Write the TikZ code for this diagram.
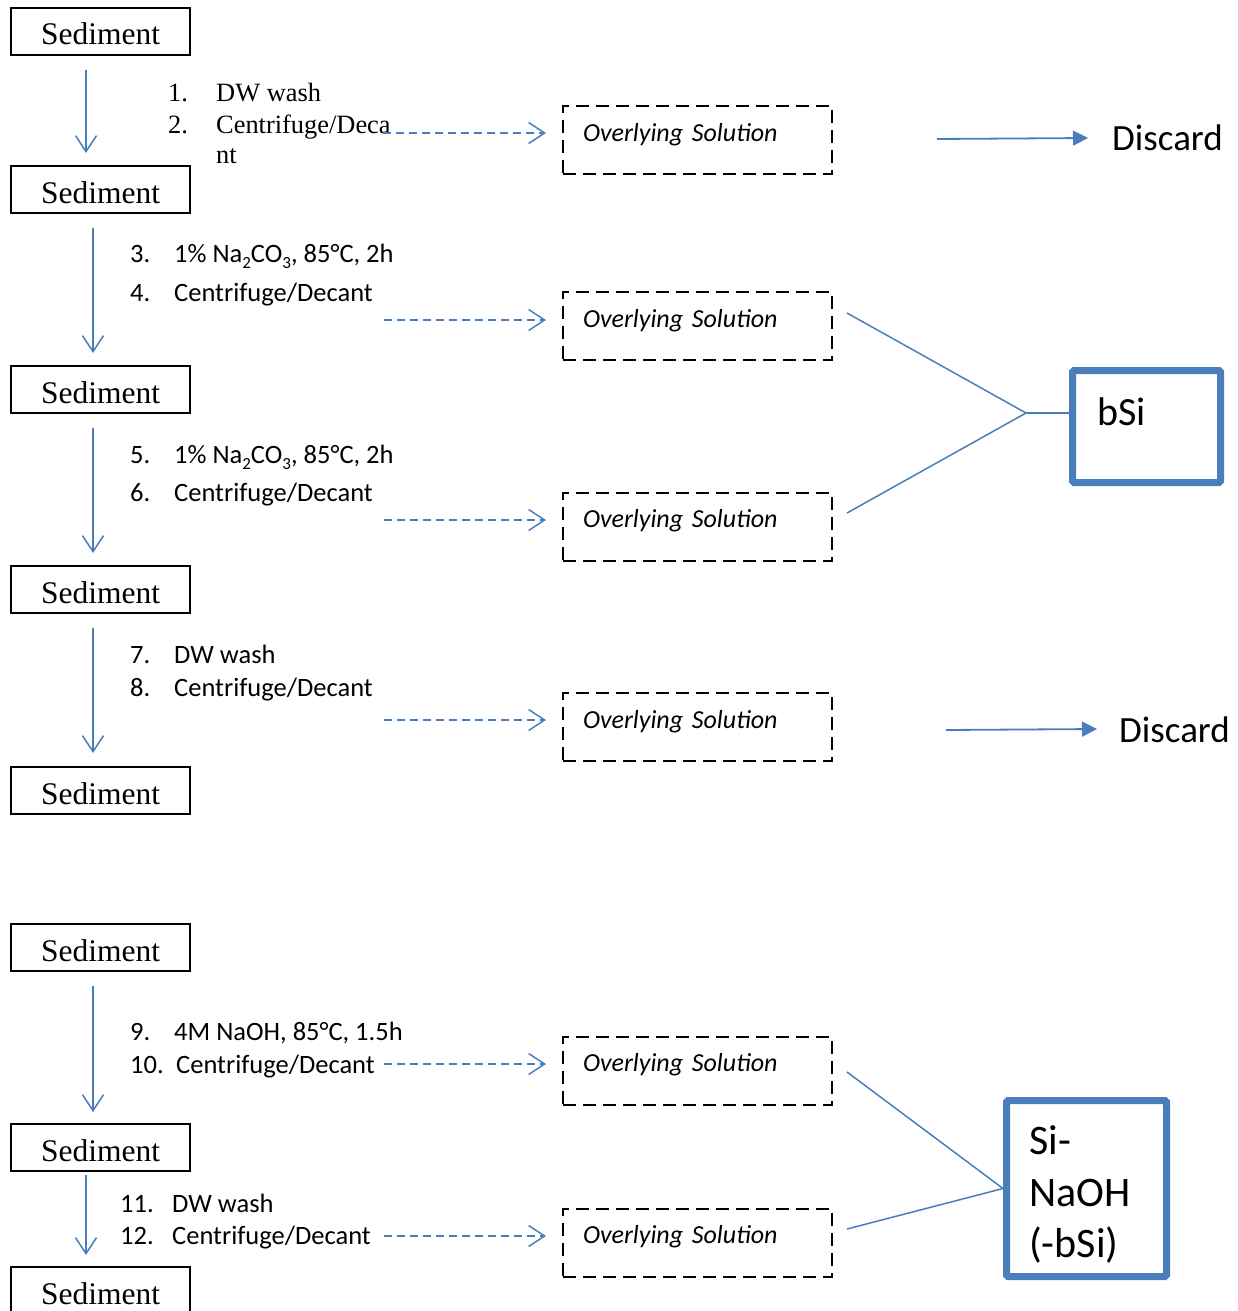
\documentclass[tikz,border=0pt]{standalone}
\usepackage{fontspec}
\setmainfont{Liberation Serif}
\newfontfamily\calfont{Carlito}
\usetikzlibrary{arrows.meta}
\definecolor{obl}{HTML}{4A7EBB}
\newcommand{\sbs}[1]{\raisebox{-6pt}{\fontsize{17}{17}\selectfont #1}}
\tikzset{
 sedbox/.style={draw=black, line width=1.6pt, minimum width=179pt, minimum height=47pt, inner sep=0pt, text height=27pt, text depth=0pt, font=\fontsize{31.5}{31.5}\selectfont},
 ovbox/.style={draw=black, line width=2pt, dash pattern=on 13pt off 7pt, minimum width=269pt, minimum height=68pt, inner xsep=20pt, inner ysep=0pt, text width=229pt, text height=17pt, text depth=15pt, align=left, font=\calfont\itshape\fontsize{26}{26}\selectfont},
 flow/.style={draw=obl, line width=1.5pt, -{Straight Barb[length=16pt,width=21pt,line width=1.5pt]}},
 dflow/.style={flow, dash pattern=on 8pt off 5pt},
 lbl/.style={anchor=base west, inner sep=0pt, font=\calfont\fontsize{26.5}{26.5}\selectfont},
 tlbl/.style={anchor=base west, inner sep=0pt, font=\fontsize{26.4}{26.4}\selectfont},
 link/.style={draw=obl, line width=1.5pt},
 discarrow/.style={draw=obl, line width=1.8pt, -{Triangle[length=15pt,width=15pt]}},
 disctxt/.style={anchor=base west, inner sep=0pt, font=\calfont\fontsize{37}{37}\selectfont},
 resbox/.style={draw=obl, line width=7pt, rounded corners=1.5pt, inner sep=0pt},
 restxt/.style={anchor=base west, inner sep=0pt, font=\calfont\fontsize{40}{40}\selectfont},
}
\begin{document}
\begin{tikzpicture}[x=1pt,y=-1pt]
\useasboundingbox (0,0) rectangle (1237,1311);

% Sediment boxes
\node[sedbox] (s1) at (100.5,31.5) {Sediment};
\node[sedbox] (s2) at (100.5,189.5) {Sediment};
\node[sedbox] (s3) at (100.5,389.5) {Sediment};
\node[sedbox] (s4) at (100.5,589.5) {Sediment};
\node[sedbox] (s5) at (100.5,790.5) {Sediment};
\node[sedbox] (s6) at (100.5,947.5) {Sediment};
\node[sedbox] (s7) at (100.5,1147.5) {Sediment};
\node[sedbox] (s8) at (100.5,1290.5) {Sediment};

% vertical arrows
\coordinate (v1a) at (86,70);   \coordinate (v1b) at (86,153);
\coordinate (v2a) at (93,228);  \coordinate (v2b) at (93,353);
\coordinate (v3a) at (93,428);  \coordinate (v3b) at (93,553);
\coordinate (v4a) at (93,628);  \coordinate (v4b) at (93,753);
\coordinate (v5a) at (93,986);  \coordinate (v5b) at (93,1112);
\coordinate (v6a) at (86,1175); \coordinate (v6b) at (86,1255);
\draw[flow] (v1a) -- (v1b);
\draw[flow] (v2a) -- (v2b);
\draw[flow] (v3a) -- (v3b);
\draw[flow] (v4a) -- (v4b);
\draw[flow] (v5a) -- (v5b);
\draw[flow] (v6a) -- (v6b);

% step labels
\node[tlbl] (t1) at (168,102) {\makebox[48pt][l]{1.}DW wash};
\node[tlbl] (t2) at (168,133) {\makebox[48pt][l]{2.}Centrifuge/Deca};
\node[tlbl] (t2b) at (216,163) {nt};
\node[lbl] (t3) at (130,262) {\makebox[44pt][l]{3.}1\% Na\sbs{2}CO\sbs{3}, 85°C, 2h};
\node[lbl] (t4) at (130,301) {\makebox[44pt][l]{4.}Centrifuge/Decant};
\node[lbl] (t5) at (130,463) {\makebox[44pt][l]{5.}1\% Na\sbs{2}CO\sbs{3}, 85°C, 2h};
\node[lbl] (t6) at (130,501) {\makebox[44pt][l]{6.}Centrifuge/Decant};
\node[lbl] (t7) at (130,663) {\makebox[44pt][l]{7.}DW wash};
\node[lbl] (t8) at (130,696) {\makebox[44pt][l]{8.}Centrifuge/Decant};
\node[lbl] (t9) at (130,1040) {\makebox[44pt][l]{9.}4M NaOH, 85°C, 1.5h};
\node[lbl] (t10) at (130,1073) {\makebox[46pt][l]{10.}Centrifuge/Decant};
\node[lbl] (t11) at (120,1212) {\makebox[52pt][l]{11.}DW wash};
\node[lbl] (t12) at (120,1244) {\makebox[52pt][l]{12.}Centrifuge/Decant};

% overlying solution boxes
\node[ovbox] (o1) at (697.5,140) {Overlying Solution};
\node[ovbox] (o2) at (697.5,326) {Overlying Solution};
\node[ovbox] (o3) at (697.5,526.5) {Overlying Solution};
\node[ovbox] (o4) at (697.5,727) {Overlying Solution};
\node[ovbox] (o5) at (697.5,1070.5) {Overlying Solution};
\node[ovbox] (o6) at (697.5,1242.5) {Overlying Solution};

% dashed arrows
\coordinate (d1) at (383,133);
\coordinate (d2) at (384,320);
\coordinate (d3) at (384,520);
\coordinate (d4) at (384,720);
\coordinate (d5) at (384,1064);
\coordinate (d6) at (384,1236);
\draw[dflow] (d1) -- ([xshift=-16pt]o1.west |- d1);
\draw[dflow] (d2) -- ([xshift=-16pt]o2.west |- d2);
\draw[dflow] (d3) -- ([xshift=-16pt]o3.west |- d3);
\draw[dflow] (d4) -- ([xshift=-16pt]o4.west |- d4);
\draw[dflow] (d5) -- ([xshift=-16pt]o5.west |- d5);
\draw[dflow] (d6) -- ([xshift=-16pt]o6.west |- d6);

% discard
\node[disctxt] (disc1) at (1112,150) {Discard};
\node[disctxt] (disc2) at (1119,742) {Discard};
\coordinate (c1) at (937,139);
\coordinate (c2) at (946,730);
\draw[discarrow] (c1) -- ([xshift=-24pt]disc1.west |- 0,138);
\draw[discarrow] (c2) -- ([xshift=-22pt]disc2.west |- 0,729);

% bSi
\node[resbox, minimum width=148pt, minimum height=112pt] (bsi) at (1146.5,426.5) {};
\node[restxt] (bsitxt) at (1097,425) {bSi};
\coordinate (j1) at (1026,413);
\coordinate (e2) at (847,313);
\coordinate (e3) at (847,513);
\draw[link] (e2) -- (j1) -- (e3);
\draw[link] (j1) -- (bsi.west |- j1);

% Si-NaOH
\node[resbox, minimum width=160pt, minimum height=176pt] (naoh) at (1086.5,1188.5) {};
\node[restxt, font=\calfont\fontsize{42}{42}\selectfont] (nt1) at (1029,1154) {Si-};
\node[restxt, font=\calfont\fontsize{42}{42}\selectfont] (nt2) at (1029,1206) {NaOH};
\node[restxt, font=\calfont\fontsize{42}{42}\selectfont] (nt3) at (1029,1257) {(-bSi)};
\coordinate (e5) at (847,1072);
\coordinate (e6) at (847,1229);
\draw[link] (e5) -- (naoh.west);
\draw[link] (e6) -- (naoh.west);
\end{tikzpicture}
\end{document}
